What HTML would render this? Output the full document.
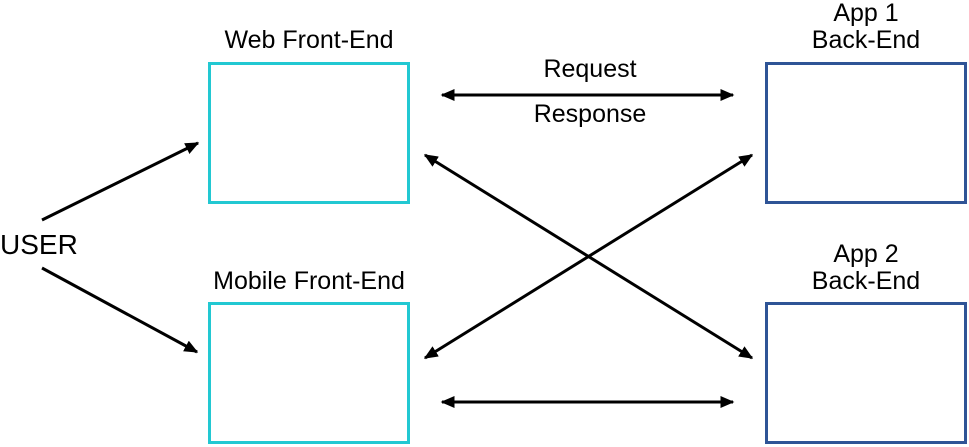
<!DOCTYPE html>
<html><head><meta charset="utf-8"><style>
html,body{margin:0;padding:0;background:#fff;}
svg{display:block;}
text{font-family:"Liberation Sans",Arial,sans-serif;font-size:25px;fill:#000;}
</style></head><body>
<svg width="969" height="447" viewBox="0 0 969 447" xmlns="http://www.w3.org/2000/svg">
<defs>
<marker id="b" viewBox="0 0 10 10" markerWidth="14" markerHeight="12" refX="9" refY="5" orient="auto-start-reverse" markerUnits="userSpaceOnUse" preserveAspectRatio="none">
<path d="M0,0 L10,5 L0,10 z" fill="#000"/>
</marker>
</defs>
<rect x="209.5" y="63.5" width="199" height="139" fill="none" stroke="#22c8d2" stroke-width="3"/>
<rect x="209.5" y="303.5" width="199" height="139" fill="none" stroke="#22c8d2" stroke-width="3"/>
<rect x="766.5" y="63.5" width="199" height="139" fill="none" stroke="#2f5496" stroke-width="3"/>
<rect x="766.5" y="303.5" width="199" height="139" fill="none" stroke="#2f5496" stroke-width="3"/>
<text x="309" y="48" text-anchor="middle">Web Front-End</text>
<text x="309" y="289" text-anchor="middle">Mobile Front-End</text>
<text x="866" y="21" text-anchor="middle">App 1</text>
<text x="866" y="48" text-anchor="middle">Back-End</text>
<text x="866" y="262" text-anchor="middle">App 2</text>
<text x="866" y="289" text-anchor="middle">Back-End</text>
<text x="0" y="254" style="font-size:28px">USER</text>
<text x="590" y="77" text-anchor="middle">Request</text>
<text x="590" y="122" text-anchor="middle">Response</text>
<g stroke="#000" stroke-width="3" fill="none">
<line x1="42" y1="220" x2="198" y2="143" marker-end="url(#b)"/>
<line x1="42" y1="268" x2="197" y2="352" marker-end="url(#b)"/>
<line x1="442" y1="95" x2="733" y2="95" marker-start="url(#b)" marker-end="url(#b)"/>
<line x1="442" y1="402" x2="733" y2="402" marker-start="url(#b)" marker-end="url(#b)"/>
<line x1="425" y1="155" x2="752" y2="358" marker-start="url(#b)" marker-end="url(#b)"/>
<line x1="425" y1="358" x2="752" y2="155" marker-start="url(#b)" marker-end="url(#b)"/>
</g>
</svg>
</body></html>
